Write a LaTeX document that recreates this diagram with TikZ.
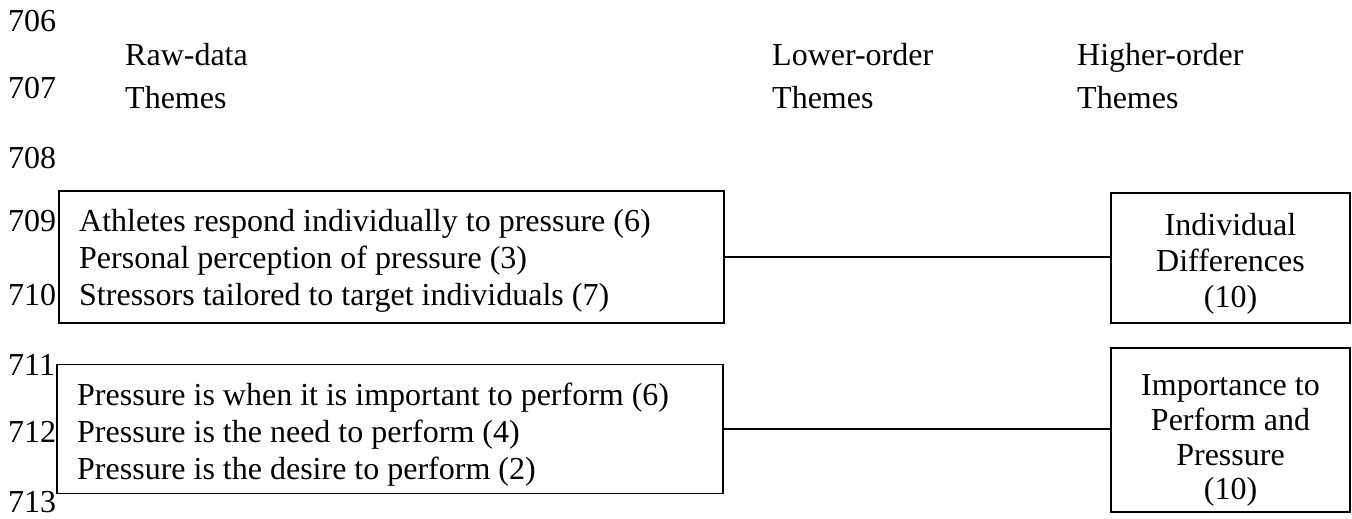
\documentclass[tikz,border=0pt]{standalone}
\usepackage{fontspec}
\setmainfont{Liberation Serif}
\begin{document}
\begin{tikzpicture}[x=1pt,y=-1pt,
  every node/.style={inner sep=0pt, font=\fontsize{32}{37}\selectfont},
  txt/.style={anchor=base west},
  ctxt/.style={anchor=base},
  box/.style={draw, line width=1.4pt, rectangle},
  conn/.style={draw, line width=1.4pt}]
\useasboundingbox (0,0) rectangle (1352,519);
% line numbers
\node[txt] (n706) at (8,32) {706};
\node[txt] (n707) at (8,99) {707};
\node[txt] (n708) at (8,168) {708};
\node[txt] (n709) at (8,231) {709};
\node[txt] (n710) at (8,305) {710};
\node[txt] (n711) at (8,375) {711};
\node[txt] (n712) at (8,442) {712};
\node[txt] (n713) at (8,512) {713};
% headers
\node[txt] (h1a) at (125,66) {Raw-data};
\node[txt] (h1b) at (125,108) {Themes};
\node[txt] (h2a) at (772,66) {Lower-order};
\node[txt] (h2b) at (772,108) {Themes};
\node[txt] (h3a) at (1077,66) {Higher-order};
\node[txt] (h3b) at (1077,108) {Themes};
% boxes
\node[box, minimum width=665pt, minimum height=132pt] (b1) at (391.5,257) {};
\node[box, minimum width=666pt, minimum height=129pt] (b2) at (390,429) {};
\node[box, minimum width=239pt, minimum height=130pt] (r1) at (1230.5,258) {};
\node[box, minimum width=239pt, minimum height=164pt] (r2) at (1230.5,430) {};
% box texts
\node[txt] (t11) at (79,231) {Athletes respond individually to pressure (6)};
\node[txt] (t12) at (79,268) {Personal perception of pressure (3)};
\node[txt] (t13) at (79,305) {Stressors tailored to target individuals (7)};
\node[txt] (t21) at (77,405) {Pressure is when it is important to perform (6)};
\node[txt] (t22) at (77,442) {Pressure is the need to perform (4)};
\node[txt] (t23) at (77,479) {Pressure is the desire to perform (2)};
\node[ctxt] (s11) at (1230.5,235) {Individual};
\node[ctxt] (s12) at (1230.5,271) {Differences};
\node[ctxt] (s13) at (1230.5,307) {(10)};
\node[ctxt] (s21) at (1230.5,395) {Importance to};
\node[ctxt] (s22) at (1230.5,430) {Perform and};
\node[ctxt] (s23) at (1230.5,465) {Pressure};
\node[ctxt] (s24) at (1230.5,499) {(10)};
% connectors
\draw[conn] (b1.east) -- (b1.east -| r1.west);
\draw[conn] (b2.east) -- (b2.east -| r2.west);
\end{tikzpicture}
\end{document}
